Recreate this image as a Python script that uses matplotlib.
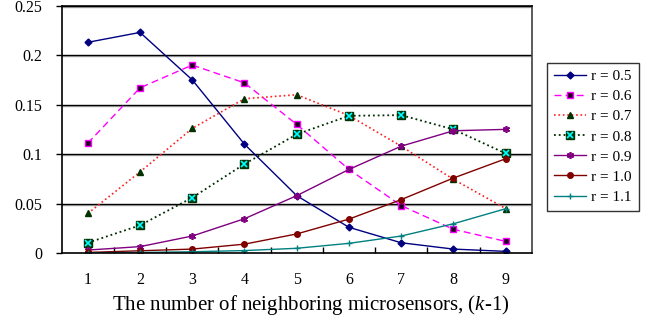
import numpy as np
import matplotlib
matplotlib.use("Agg")
import matplotlib.pyplot as plt
from matplotlib.legend_handler import HandlerTuple
from matplotlib.ticker import FuncFormatter

plt.rcParams['font.family'] = ['Liberation Serif', 'DejaVu Serif']
plt.rcParams['mathtext.fontset'] = 'custom'
plt.rcParams['mathtext.it'] = 'Liberation Serif:italic'
plt.rcParams['mathtext.rm'] = 'Liberation Serif'

k = [1, 2, 3, 4, 5, 6, 7, 8, 9]
r05 = [0.213, 0.223, 0.175, 0.110, 0.058, 0.026, 0.0104, 0.004, 0.0017]
r06 = [0.111, 0.167, 0.190, 0.172, 0.130, 0.0845, 0.048, 0.024, 0.0118]
r07 = [0.040, 0.082, 0.126, 0.156, 0.160, 0.139, 0.108, 0.0745, 0.045]
r08 = [0.0104, 0.028, 0.056, 0.090, 0.120, 0.1387, 0.1394, 0.125, 0.1007]
r09 = [0.003, 0.0065, 0.0172, 0.0347, 0.058, 0.0845, 0.108, 0.1236, 0.125]
r10 = [0.0006, 0.0023, 0.004, 0.009, 0.0193, 0.0343, 0.054, 0.0758, 0.0953]
r11 = [0.0002, 0.0006, 0.0013, 0.0025, 0.0048, 0.0098, 0.0172, 0.0296, 0.0448]
labels = ['r = 0.5', 'r = 0.6', 'r = 0.7', 'r = 0.8', 'r = 0.9', 'r = 1.0', 'r = 1.1']

fig = plt.figure(figsize=(6.55, 3.24), dpi=100)
ax = fig.add_axes([0.0942, 0.219, 0.7176, 0.7634])

# grid lines (black with a faint grey shadow like excel)
for y in [0.05, 0.1, 0.15, 0.2, 0.25]:
    ax.axhline(y - 0.0012, color='#b0b0b0', lw=1.0, zorder=0.5)
    ax.axhline(y, color='black', lw=1.0, zorder=0.6)

handles = []
h, = ax.plot(k, r05, '-', color='#000080', lw=1.0, marker='D', ms=3.5,
             mfc='#000080', mec='#000080')
handles.append(h)
h, = ax.plot(k, r06, '--', color='#ff00ff', lw=1.0, dashes=(5, 3), marker='s', ms=4.5,
             mfc='#200020', mec='#ff00ff', mew=1.0)
handles.append(h)
h, = ax.plot(k, r07, ':', color='#ff2020', lw=1.2, marker='^', ms=4.5,
             mfc='#003300', mec='#003300')
handles.append(h)
h1, = ax.plot(k, r08, ':', color='#002a00', lw=1.3, marker='s', ms=6,
              mfc='#004020', mec='#003300')
h2, = ax.plot(k, r08, ' ', marker='x', ms=4, mec='#00ffff', mew=1.2)
handles.append((h1, h2))
h, = ax.plot(k, r09, '-', color='#800080', lw=1.0, marker=(6, 2, 0), ms=5,
             mec='#800080', mew=1.2)
handles.append(h)
h, = ax.plot(k, r10, '-', color='#800000', lw=1.0, marker='o', ms=4,
             mfc='#800000', mec='#800000')
handles.append(h)
h, = ax.plot(k, r11, '-', color='#008080', lw=1.0, marker='+', ms=5,
             mec='#008080', mew=1.0)
handles.append(h)

ax.set_xlim(0.5, 9.5)
ax.set_ylim(0, 0.25)
ax.set_xticks(k)
ax.set_xticks(np.arange(1.5, 9.5, 1), minor=True)
ax.tick_params(axis='x', which='major', length=0, pad=14, labelsize=11.5)
ax.tick_params(axis='x', which='minor', direction='in', length=4, width=1)
ax.set_yticks([0, 0.05, 0.1, 0.15, 0.2, 0.25])
ax.yaxis.set_major_formatter(FuncFormatter(lambda v, p: ('%g' % round(v, 2))))
ax.tick_params(axis='y', direction='out', length=4, width=1, pad=10, labelsize=11.5)

for s in ['left', 'bottom', 'top']:
    ax.spines[s].set_color('black')
    ax.spines[s].set_linewidth(1.2)
ax.spines['right'].set_color('#404040')
ax.spines['right'].set_linewidth(1.2)

ax.set_xlabel('The number of neighboring microsensors, ($k$-1)', fontsize=15)
ax.xaxis.set_label_coords(0.53, -0.16)

leg = fig.legend(handles, labels, loc='upper left', bbox_to_anchor=(0.835, 0.8065),
                 borderaxespad=0, fontsize=11, frameon=True, fancybox=False,
                 edgecolor='black', handlelength=2.1, labelspacing=0.42,
                 borderpad=0.45, handletextpad=0.35,
                 handler_map={tuple: HandlerTuple(ndivide=1, pad=0)})
leg.get_frame().set_linewidth(1.0)

fig.savefig('out.png', dpi=100)
